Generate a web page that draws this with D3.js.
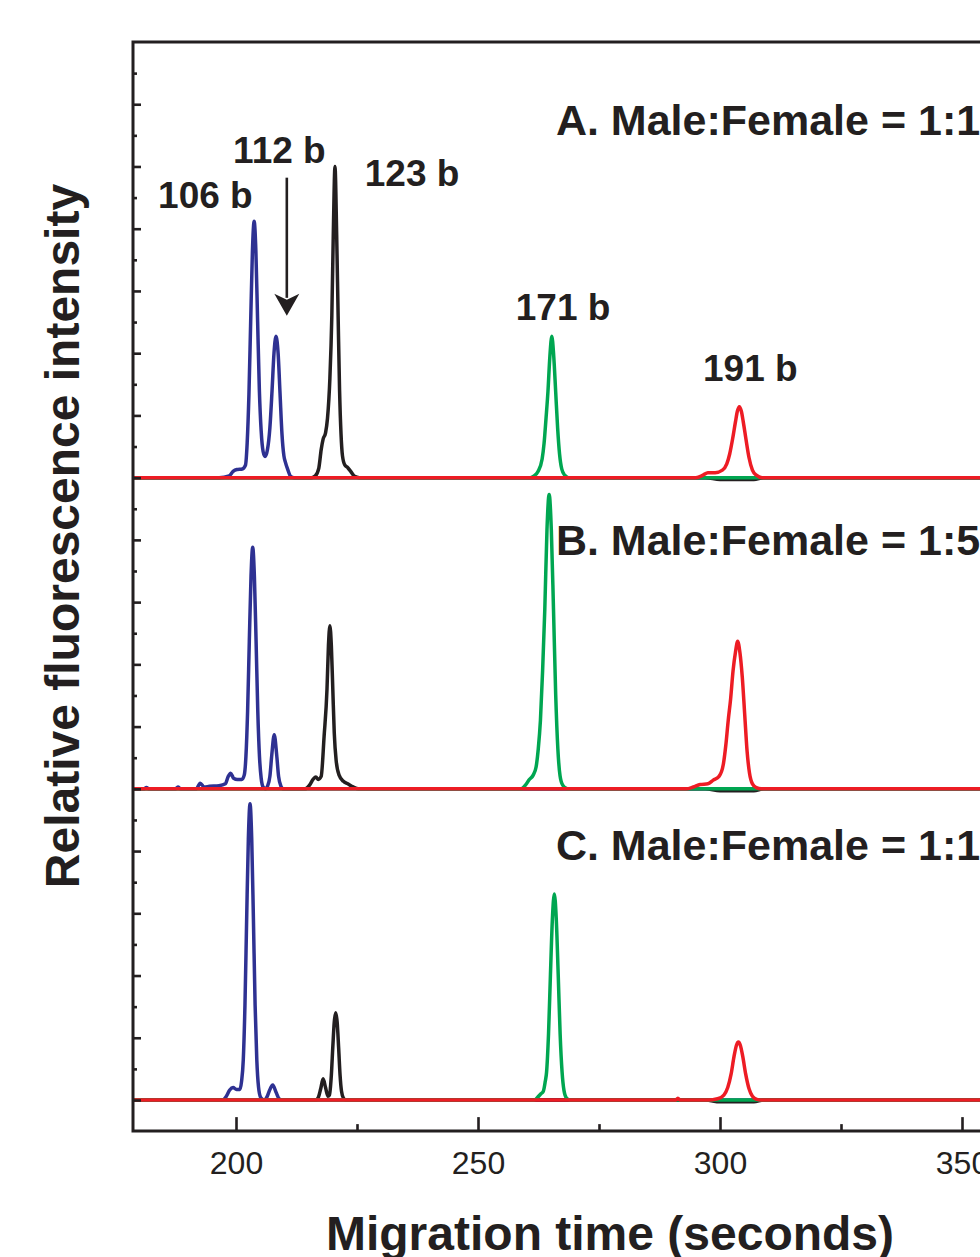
<!DOCTYPE html>
<html>
<head>
<meta charset="utf-8">
<script src="https://cdn.jsdelivr.net/npm/d3@7"></script>
<style>
  body { margin: 0; background: #fff; }
  svg { display: block; }
  text { font-family: "Liberation Sans", Arial, sans-serif; fill: #231f20; }
</style>
</head>
<body>
<div id="chart"></div>
<script>
// migration time (s), relative intensity above the panel baseline (units = major y tick)
var blueA = [[179,0],[196.5,0],[198.6,0.03],[199.4,0.1],[200.2,0.13],[201.3,0.14],[201.95,0.2],[202.31,0.56],[202.67,1.33],[203.03,2.5],[203.39,3.63],[203.75,4.12],[204.11,3.63],[204.47,2.5],[204.83,1.4],[205.2,0.75],[205.6,0.42],[206.0,0.34],[206.5,0.45],[207.0,0.8],[207.45,1.4],[207.85,2.0],[208.26,2.27],[208.7,2.0],[209.1,1.35],[209.5,0.7],[209.9,0.35],[210.2,0.25],[210.7,0.13],[211.3,0.02],[212,0],[405,0]];
var blackA = [[179,0],[215.6,0],[216.4,0.03],[217.1,0.15],[217.6,0.45],[218.0,0.62],[218.5,0.72],[218.9,0.95],[219.4,1.6],[219.8,2.6],[220.1,3.9],[220.45,5.0],[220.8,3.9],[221.1,2.6],[221.4,1.4],[221.7,0.7],[222.0,0.35],[222.5,0.2],[223.1,0.16],[223.7,0.1],[224.5,0.02],[225.5,0],[297,0],[300,-0.03],[307,-0.03],[309,0],[405,0]];
var greenA = [[179,0],[260.8,0],[261.6,0.03],[262.4,0.1],[263.25,0.3],[263.65,0.55],[264.05,0.95],[264.45,1.38],[264.85,1.95],[265.25,2.27],[265.65,1.95],[266.05,1.38],[266.45,0.8],[266.85,0.38],[267.3,0.14],[267.9,0.04],[268.7,0],[405,0]];
var redA = [[179,0],[295,0],[296.5,0.04],[297.5,0.08],[299,0.08],[300.5,0.12],[301.4,0.22],[302.0,0.38],[302.6,0.62],[303.2,0.9],[303.6,1.07],[304.0,1.14],[304.4,1.07],[304.8,0.9],[305.4,0.6],[306.0,0.32],[306.7,0.12],[307.5,0.04],[308.7,0],[405,0]];

var blueB = [[179,0],[181,0],[181.5,0.02],[182,0],[187.5,0],[188,0.03],[188.6,0],[191.8,0],[192.6,0.09],[193.4,0.03],[194.5,0.04],[196.5,0.05],[197.8,0.08],[198.4,0.2],[198.9,0.25],[199.5,0.17],[200.3,0.15],[201.2,0.15],[201.7,0.22],[202.05,0.52],[202.4,1.25],[202.75,2.37],[203.1,3.41],[203.45,3.88],[203.8,3.41],[204.15,2.37],[204.5,1.25],[204.85,0.52],[205.2,0.17],[205.6,0.03],[206.1,0],[206.5,0.04],[207.0,0.2],[207.4,0.55],[207.9,0.87],[208.4,0.55],[208.8,0.2],[209.3,0.04],[209.7,0],[405,0]];
var blackB = [[179,0],[214.3,0],[215.2,0.06],[216.0,0.16],[216.5,0.19],[217.0,0.15],[217.6,0.2],[218.2,0.84],[218.8,1.6],[219.1,2.3],[219.4,2.62],[219.7,2.3],[220.0,1.6],[220.3,0.9],[220.7,0.45],[221.3,0.22],[222.2,0.12],[223.1,0.08],[224.2,0.03],[225.3,0],[297,0],[300,-0.03],[307,-0.03],[309,0],[405,0]];
var greenB = [[179,0],[258.9,0],[259.8,0.06],[260.6,0.15],[261.4,0.22],[262.0,0.35],[262.45,0.64],[262.9,1.1],[263.35,1.9],[263.8,2.88],[264.25,4.16],[264.7,4.73],[265.15,4.16],[265.6,2.88],[266.05,1.52],[266.5,0.64],[266.95,0.21],[267.5,0.06],[268.5,0],[405,0]];
var redB = [[179,0],[293,0],[294.5,0.03],[295.9,0.07],[297.5,0.08],[298.6,0.14],[299.8,0.2],[300.7,0.4],[301.2,0.7],[301.7,1.1],[302.2,1.45],[302.7,1.9],[303.2,2.2],[303.65,2.37],[304.1,2.2],[304.6,1.8],[305.1,1.2],[305.6,0.6],[306.1,0.25],[306.7,0.08],[307.5,0.02],[308.5,0],[405,0]];

var blueC = [[179,0],[197.2,0],[198.0,0.06],[198.7,0.16],[199.4,0.2],[200.1,0.17],[200.8,0.17],[201.15,0.3],[201.5,0.64],[201.85,1.52],[202.2,2.9],[202.55,4.19],[202.9,4.76],[203.25,4.19],[203.6,2.9],[203.95,1.52],[204.3,0.64],[204.65,0.21],[205.1,0.04],[205.8,0],[206.4,0.05],[206.9,0.15],[207.6,0.24],[208.3,0.12],[208.9,0.02],[209.4,0],[405,0]];
var blackC = [[179,0],[216.5,0],[217.0,0.04],[217.5,0.18],[218.0,0.34],[218.5,0.2],[219.0,0.06],[219.3,0.08],[219.7,0.4],[220.0,0.85],[220.3,1.25],[220.6,1.4],[220.9,1.25],[221.2,0.85],[221.5,0.4],[221.8,0.14],[222.2,0.03],[222.7,0],[297,0],[300,-0.03],[307,-0.03],[309,0],[405,0]];
var greenC = [[179,0],[261.6,0],[262.4,0.05],[263.0,0.1],[263.5,0.14],[263.9,0.3],[264.17,0.45],[264.57,1.06],[264.97,2.02],[265.37,2.91],[265.77,3.31],[266.17,2.91],[266.57,2.02],[266.97,1.06],[267.37,0.45],[267.77,0.15],[268.3,0.03],[269,0],[405,0]];
var redC = [[179,0],[290.9,0],[291.3,0.03],[291.7,0],[297.5,0],[299.5,0.02],[300.8,0.08],[301.6,0.2],[302.3,0.42],[302.9,0.7],[303.4,0.88],[303.8,0.93],[304.2,0.88],[304.7,0.7],[305.3,0.42],[306.0,0.18],[306.7,0.06],[307.6,0.01],[308.5,0],[405,0]];

var panelBase = [10, 5, 0];
var panelTitles = ["A. Male:Female = 1:1", "B. Male:Female = 1:5", "C. Male:Female = 1:10"];
var panelTitlePos = [[266.1, 15.5], [266.1, 8.75], [266.1, 3.86]];   // [time, y units] of text start/baseline

var peakLabels = ["106 b", "112 b", "123 b", "171 b", "191 b"];
var peakLabelPos = [[183.9, 14.34], [199.4, 15.06], [226.6, 14.69], [257.8, 12.53], [296.5, 11.55]];
var arrowA = [210.5, 14.82, 12.6];    // time, from, to (y units)

var xMajor = [200, 250, 300, 350];
var xMinor = [225, 275, 325];
var yMajor = d3.range(0, 17, 1);
var yMinor = d3.range(0.5, 17, 1);

var colors = { blue: "#2e3192", black: "#231f20", green: "#00a651", red: "#ed1c24" };
var traces = [
    { panel: 0, color: "blue", data: blueA }, { panel: 0, color: "black", data: blackA },
    { panel: 0, color: "green", data: greenA }, { panel: 0, color: "red", data: redA },
    { panel: 1, color: "blue", data: blueB }, { panel: 1, color: "black", data: blackB },
    { panel: 1, color: "green", data: greenB }, { panel: 1, color: "red", data: redB },
    { panel: 2, color: "blue", data: blueC }, { panel: 2, color: "black", data: blackC },
    { panel: 2, color: "green", data: greenC }, { panel: 2, color: "red", data: redC }
];

var W = 980, H = 1257;
var plotLeft = 133, plotTop = 42, plotRight = 1010;
var x = d3.scaleLinear().domain([200, 350]).range([236, 962]);
var y = d3.scaleLinear().domain([0, 17]).range([1100, plotTop]);
var plotBottom = y(-0.5);

var svg = d3.select("#chart").append("svg").attr("width", W).attr("height", H);

svg.append("clipPath").attr("id", "plotclip").append("rect")
    .attr("x", plotLeft).attr("y", plotTop).attr("width", plotRight - plotLeft).attr("height", plotBottom - plotTop);

// traces
var line = d3.line().curve(d3.curveMonotoneX);
var g = svg.append("g").attr("clip-path", "url(#plotclip)");
traces.forEach(function(tr) {
    var base = panelBase[tr.panel];
    g.append("path")
        .attr("d", line.x(function(d) { return x(d[0]); }).y(function(d) { return y(d[1] + base); })(tr.data))
        .attr("fill", "none")
        .attr("stroke", colors[tr.color])
        .attr("stroke-width", 3.5)
        .attr("stroke-linejoin", "round")
        .attr("stroke-linecap", "round");
});

// axes
var axisColor = "#231f20";
var xAxisMaj = d3.axisBottom(x).tickValues(xMajor).tickSizeInner(-14).tickSizeOuter(0).tickPadding(20);
var xAxisMin = d3.axisBottom(x).tickValues(xMinor).tickSizeInner(-7).tickSizeOuter(0).tickFormat("");
var yAxisMaj = d3.axisLeft(y).tickValues(yMajor).tickSizeInner(-8).tickSizeOuter(0).tickFormat("");
var yAxisMin = d3.axisLeft(y).tickValues(yMinor).tickSizeInner(-4).tickSizeOuter(0).tickFormat("");

var gx = svg.append("g").attr("transform", "translate(0," + plotBottom + ")");
gx.append("g").call(xAxisMaj);
gx.append("g").call(xAxisMin);
var gy = svg.append("g").attr("transform", "translate(" + plotLeft + ",0)");
gy.append("g").call(yAxisMaj);
gy.append("g").call(yAxisMin);

svg.selectAll(".domain").remove();
svg.selectAll(".tick line").attr("stroke", axisColor).attr("stroke-width", 2.6);
gx.selectAll(".tick text").attr("font-size", 32).attr("fill", axisColor)
    .style("font-family", "'Liberation Sans', Arial, sans-serif");

// frame lines
svg.append("path")
    .attr("d", "M" + plotRight + "," + plotTop + "H" + plotLeft + "V" + plotBottom + "H" + plotRight)
    .attr("fill", "none").attr("stroke", axisColor).attr("stroke-width", 3)
    .attr("stroke-linejoin", "miter");

// axis titles
svg.append("text")
    .attr("x", 610).attr("y", 1250)
    .attr("text-anchor", "middle").attr("font-size", 48).attr("font-weight", "bold")
    .text("Migration time (seconds)");
svg.append("text")
    .attr("transform", "translate(79,536)rotate(-90)")
    .attr("text-anchor", "middle").attr("font-size", 48).attr("font-weight", "bold")
    .text("Relative fluorescence intensity");

// panel titles
panelTitles.forEach(function(t, i) {
    svg.append("text")
        .attr("x", x(panelTitlePos[i][0])).attr("y", y(panelTitlePos[i][1]))
        .attr("font-size", 43).attr("font-weight", "bold")
        .text(t);
});

// peak labels
peakLabels.forEach(function(t, i) {
    svg.append("text")
        .attr("x", x(peakLabelPos[i][0])).attr("y", y(peakLabelPos[i][1]))
        .attr("font-size", 37).attr("font-weight", "bold")
        .text(t);
});

// arrow at 112 b
var ax = x(arrowA[0]), ay0 = y(arrowA[1]), ay1 = y(arrowA[2]);
svg.append("line")
    .attr("x1", ax).attr("x2", ax).attr("y1", ay0).attr("y2", ay1 - 18)
    .attr("stroke", axisColor).attr("stroke-width", 2.6);
svg.append("path")
    .attr("d", "M" + ax + "," + ay1 + "L" + (ax - 12.5) + "," + (ay1 - 22) + "L" + ax + "," + (ay1 - 16) + "L" + (ax + 12.5) + "," + (ay1 - 22) + "Z")
    .attr("fill", axisColor);
</script>
</body>
</html>
